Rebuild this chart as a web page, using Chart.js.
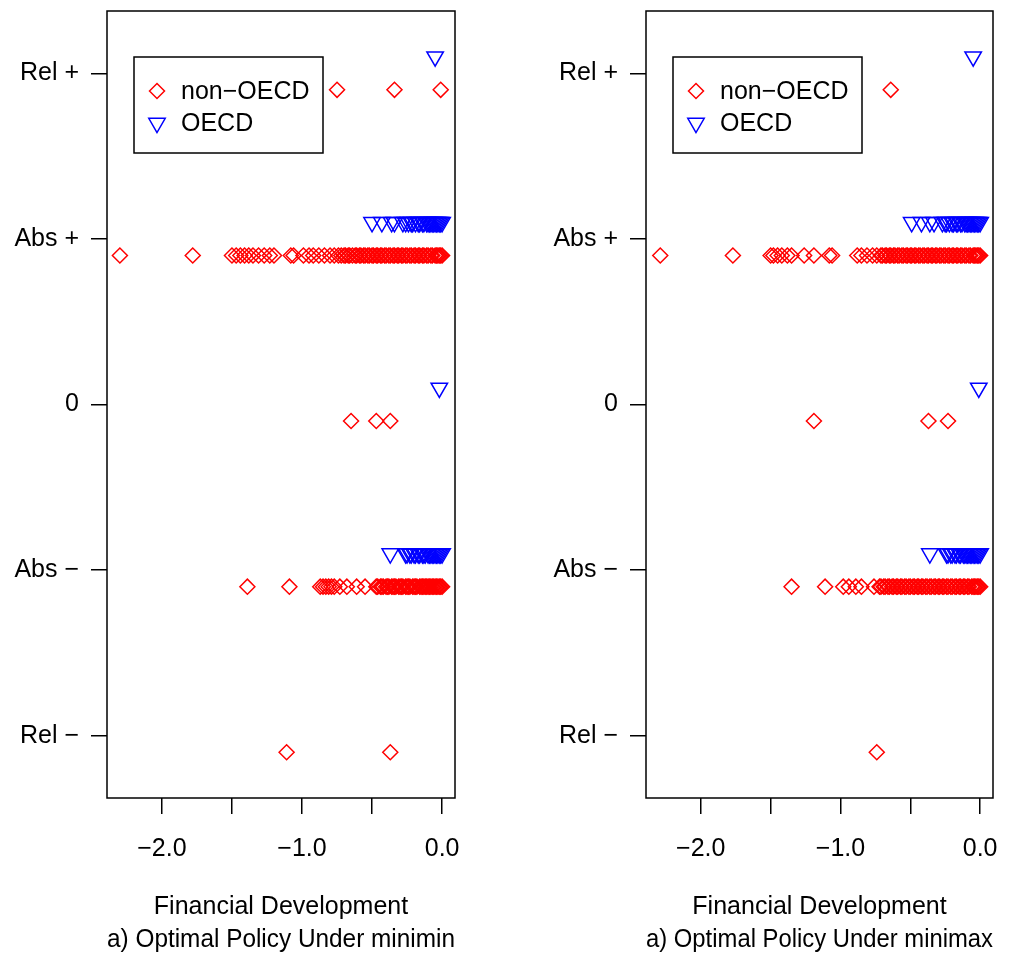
<!DOCTYPE html>
<html>
<head>
<meta charset="utf-8">
<script src="https://cdn.jsdelivr.net/npm/chart.js@4.4.0/dist/chart.umd.min.js"></script>
<style>
  html, body { margin: 0; padding: 0; background: #fff; }
  #wrap { width: 1010px; height: 958px; display: flex; }
  .panel { width: 505px; height: 958px; }
</style>
</head>
<body>
<div id="wrap">
  <div class="panel"><canvas id="left" width="505" height="958"></canvas></div>
  <div class="panel"><canvas id="right" width="505" height="958"></canvas></div>
</div>
<script>
// y categories (bottom to top) and their labels
const levels = [-2, -1, 0, 1, 2];
const levelLabels = ["Rel \u2212", "Abs \u2212", "0", "Abs +", "Rel +"];
const xTicks = [-2, -1.5, -1, -0.5, 0];
const xTickLabels = ["\u22122.0", "", "\u22121.0", "", "0.0"];

// x values (financial development) per category, same order as levels
const minimin_nonOECD = [
  [-1.11, -0.37],
  [-1.39, -1.09, -0.87, -0.85, -0.83, -0.81, -0.79, -0.77, -0.73, -0.68, -0.61, -0.55,
   -0.47, -0.46, -0.44, -0.43, -0.42, -0.40, -0.39, -0.38, -0.36, -0.35, -0.34, -0.33,
   -0.31, -0.30, -0.29, -0.28, -0.26, -0.25, -0.24, -0.23, -0.21, -0.20, -0.19, -0.18,
   -0.16, -0.15, -0.14, -0.13, -0.12, -0.11, -0.10, -0.09, -0.08, -0.07, -0.06, -0.05,
   -0.04, -0.03, -0.02, -0.01, 0.0],
  [-0.65, -0.47, -0.37],
  [-2.30, -1.78, -1.50, -1.47, -1.44, -1.41, -1.38, -1.35, -1.31, -1.27, -1.23, -1.20,
   -1.08, -1.06, -0.99, -0.95, -0.92, -0.88, -0.84, -0.80, -0.77, -0.74,
   -0.72, -0.70, -0.69, -0.67, -0.66, -0.64, -0.62, -0.61, -0.59, -0.58, -0.56, -0.55,
   -0.53, -0.52, -0.50, -0.49, -0.47, -0.46, -0.44, -0.43, -0.41, -0.40, -0.38, -0.37,
   -0.35, -0.34, -0.32, -0.31, -0.29, -0.28, -0.26, -0.25, -0.23, -0.22, -0.20, -0.19,
   -0.17, -0.16, -0.14, -0.13, -0.11, -0.10, -0.08, -0.07, -0.05, -0.04, -0.03, -0.02,
   -0.01, 0.0],
  [-0.75, -0.34, -0.01]
];
const minimin_OECD = [
  [],
  [-0.37, -0.26, -0.25, -0.23, -0.22, -0.20, -0.19, -0.17, -0.16, -0.14, -0.13, -0.12,
   -0.10, -0.09, -0.08, -0.07, -0.06, -0.05, -0.04, -0.03, -0.02, -0.01, 0.0],
  [-0.02],
  [-0.50, -0.43, -0.36, -0.34, -0.28, -0.26, -0.24, -0.22, -0.21, -0.19, -0.17, -0.16,
   -0.14, -0.13, -0.11, -0.10, -0.09, -0.08, -0.07, -0.06, -0.05, -0.04, -0.03, -0.02,
   -0.01, 0.0],
  [-0.05]
];

const minimax_nonOECD = [
  [-0.74],
  [-1.35, -1.11, -0.98, -0.94, -0.89, -0.85, -0.76,
   -0.72, -0.71, -0.69, -0.68, -0.66, -0.65, -0.63, -0.62, -0.60, -0.59, -0.57, -0.56,
   -0.54, -0.53, -0.51, -0.50, -0.48, -0.47, -0.45, -0.44, -0.42, -0.41, -0.39, -0.38,
   -0.36, -0.35, -0.33, -0.32, -0.30, -0.29, -0.27, -0.26, -0.24, -0.23, -0.21, -0.20,
   -0.18, -0.17, -0.15, -0.14, -0.12, -0.11, -0.09, -0.08, -0.06, -0.05, -0.04, -0.03,
   -0.02, -0.01, 0.0],
  [-1.19, -0.37, -0.23],
  [-2.29, -1.77, -1.50, -1.48, -1.45, -1.42, -1.38, -1.35, -1.26, -1.19, -1.08, -1.06,
   -0.88, -0.85, -0.81, -0.77, -0.74,
   -0.71, -0.70, -0.68, -0.67, -0.65, -0.64, -0.62, -0.61, -0.59, -0.58, -0.56, -0.55,
   -0.53, -0.52, -0.50, -0.49, -0.47, -0.46, -0.44, -0.43, -0.41, -0.40, -0.38, -0.37,
   -0.35, -0.34, -0.32, -0.31, -0.29, -0.28, -0.26, -0.25, -0.23, -0.22, -0.20, -0.19,
   -0.17, -0.16, -0.14, -0.13, -0.11, -0.10, -0.08, -0.07, -0.05, -0.04, -0.03, -0.02,
   -0.01, 0.0],
  [-0.64]
];
const minimax_OECD = [
  [],
  [-0.36, -0.24, -0.23, -0.21, -0.20, -0.18, -0.17, -0.15, -0.14, -0.12, -0.11, -0.10,
   -0.09, -0.08, -0.07, -0.06, -0.05, -0.04, -0.03, -0.02, -0.01, 0.0],
  [-0.01],
  [-0.49, -0.42, -0.36, -0.33, -0.27, -0.25, -0.24, -0.22, -0.20, -0.19, -0.17, -0.16,
   -0.14, -0.13, -0.11, -0.10, -0.09, -0.08, -0.07, -0.06, -0.05, -0.04, -0.03, -0.02,
   -0.01, 0.0],
  [-0.05]
];

const groupOffset = 0.1; // non-OECD drawn just below each level, OECD just above
const FONT = "'Liberation Sans', Arial, Helvetica, sans-serif";
const FS = 25;
Chart.defaults.font.family = FONT;
Chart.defaults.color = "#000";

function toPoints(rows, dy) {
  let pts = [];
  rows.forEach((xs, i) => {
    xs.forEach((x) => pts.push({ x: x, y: levels[i] + dy }));
  });
  return pts;
}

const boxPlugin = {
  id: "box",
  afterDraw(chart) {
    const a = chart.chartArea;
    const ctx = chart.ctx;
    ctx.save();
    ctx.strokeStyle = "#000";
    ctx.lineWidth = 1.5;
    ctx.strokeRect(a.left, a.top, a.right - a.left, a.bottom - a.top);
    ctx.restore();
  },
};

const legendPlugin = {
  id: "boxLegend",
  afterDraw(chart) {
    const ctx = chart.ctx;
    const left = chart.chartArea.left + 27;
    ctx.save();
    ctx.strokeStyle = "#000";
    ctx.lineWidth = 1.5;
    ctx.strokeRect(left, 57, 189, 96);
    const rows = [91, 123];
    chart.data.datasets.forEach((ds, i) => {
      ctx.strokeStyle = ds.borderColor;
      ctx.fillStyle = "rgba(0,0,0,0)";
      ctx.lineWidth = ds.borderWidth;
      Chart.helpers.drawPoint(ctx, {
        pointStyle: ds.pointStyle,
        rotation: ds.rotation || 0,
        radius: ds.pointRadius,
        borderWidth: ds.borderWidth,
      }, left + 23, rows[i]);
      ctx.fillStyle = "#000";
      ctx.font = FS + "px " + FONT;
      ctx.textBaseline = "middle";
      ctx.textAlign = "left";
      ctx.fillText(ds.label, left + 47, rows[i] + 1);
    });
    ctx.restore();
  },
};

function makeChart(id, nonOECD, oecd, subtitle, yWidth, padRight) {
  return new Chart(document.getElementById(id), {
    type: "scatter",
    data: {
      datasets: [
        {
          label: "non\u2212OECD",
          data: toPoints(nonOECD, -groupOffset),
          pointStyle: "rectRot",
          pointRadius: 7.5,
          borderColor: "#ff0000",
          backgroundColor: "rgba(0,0,0,0)",
          borderWidth: 1.5,
        },
        {
          label: "OECD",
          data: toPoints(oecd, groupOffset),
          pointStyle: "triangle",
          rotation: 180,
          pointRadius: 9.5,
          borderColor: "#0000ff",
          backgroundColor: "rgba(0,0,0,0)",
          borderWidth: 1.5,
        },
      ],
    },
    options: {
      responsive: false,
      animation: false,
      devicePixelRatio: 1,
      layout: { padding: { top: 8, right: padRight, left: 0, bottom: 0 } },
      plugins: { legend: { display: false }, tooltip: { enabled: false } },
      scales: {
        x: {
          type: "linear",
          min: -2.392,
          max: 0.092,
          afterBuildTicks: (s) => { s.ticks = xTicks.map((v) => ({ value: v })); },
          afterFit: (s) => {
            s.height = 160;
            s.paddingLeft = 0;
            s.paddingRight = 0;
          },
          ticks: {
            callback: (v, i) => xTickLabels[i],
            font: { size: FS },
            color: "#000",
            padding: 20,
            maxRotation: 0,
            autoSkip: false,
          },
          grid: { drawOnChartArea: false, drawTicks: true, tickLength: 16, color: "#000", lineWidth: 1.5 },
          border: { display: false },
          title: {
            display: true,
            text: ["Financial Development", subtitle],
            font: { size: FS, lineHeight: 1.32 },
            color: "#000",
            padding: { top: 0, bottom: 1 },
          },
        },
        y: {
          type: "linear",
          min: -2.376,
          max: 2.376,
          afterBuildTicks: (s) => { s.ticks = levels.map((v) => ({ value: v })); },
          afterFit: (s) => {
            s.width = yWidth;
            s.paddingTop = 0;
            s.paddingBottom = 0;
          },
          ticks: {
            callback: (v, i) => levelLabels[i],
            font: { size: FS },
            color: "#000",
            padding: 12,
            autoSkip: false,
          },
          grid: { drawOnChartArea: false, drawTicks: true, tickLength: 16, color: "#000", lineWidth: 1.5 },
          border: { display: false },
        },
      },
    },
    plugins: [boxPlugin, legendPlugin],
  });
}

makeChart("left", minimin_nonOECD, minimin_OECD, "a) Optimal Policy Under minimin", 107, 50);
makeChart("right", minimax_nonOECD, minimax_OECD, "a) Optimal Policy Under minimax", 141, 17);
</script>
</body>
</html>
